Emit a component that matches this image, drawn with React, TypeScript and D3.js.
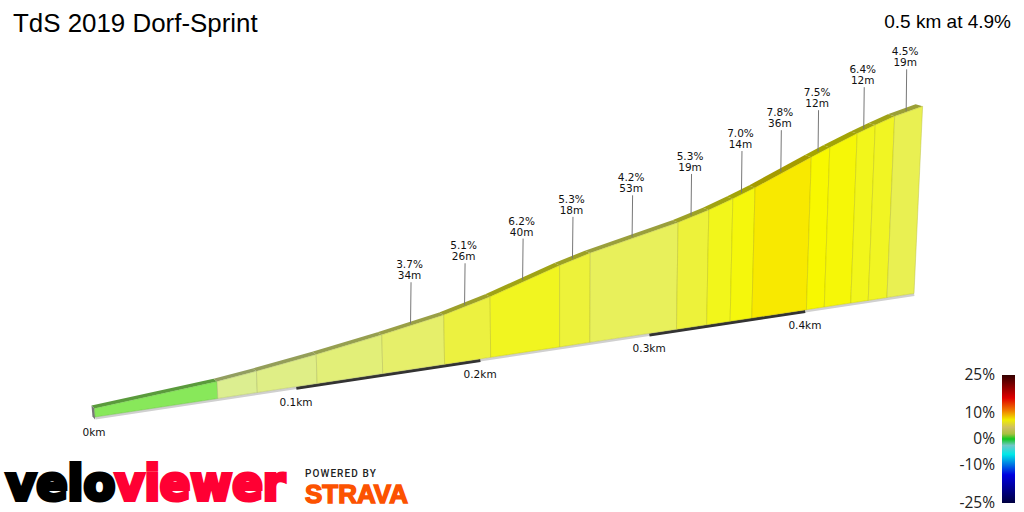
import { color, cumsum, line, scaleLinear, scalePow } from 'd3'

const segLengths = [60, 20, 31, 35, 34, 26, 40, 18, 53, 19, 15, 14, 36, 12, 18, 12, 13, 19]
const segGrades = [1.7, 2.6, 2.9, 3.3, 3.7, 5.1, 6.2, 5.3, 4.2, 5.3, 6.4, 7.0, 7.8, 7.5, 7.2, 6.4, 6.1, 4.5]
const segLabelled = [false, false, false, false, true, true, true, true, true, true, false, true, true, true, false, true, false, true]
const kmTicks = [0, 100, 200, 300, 400]
const blackSpans = [[100, 200], [300, 400]]
const faceGrades = [1.7, 2.6, 3.7, 5.1, 6.2, 7.0, 7.5, 7.8]
const faceColors = ['#88e85a', '#dcee90', '#e6ef6a', '#ecf140', '#f1f520', '#f5f70c', '#f8f800', '#f8e900']
const legendPct = [25, 16, 11, 7.5, 4.5, 2, 0, -2.5, -6, -14, -25]
const legendColors = ['#330000', '#e00000', '#f08000', '#f0ee00', '#cfc060', '#a8c040', '#10c820', '#70c8c8', '#00e8e8', '#0000e0', '#000040']
const legendTicks = [25, 10, 0, -10, -25]

const total = segLengths.reduce((a, b) => a + b, 0)
const ends = [0, ...cumsum(segLengths)]
const rises = [0, ...cumsum(segLengths.map((l, i) => (l * segGrades[i]) / 100))]

// perspective: everything shrinks with distance down the road
const persp = (d: number) => 1 + 0.000464 * d
const flat = (d: number) => d / persp(d)
const xBase = scaleLinear().domain([0, flat(total)]).range([95, 914])
const yBase = scaleLinear().domain([0, flat(total)]).range([417, 293.5])
const heightPx = scalePow().exponent(1.045).domain([-1, 24]).range([0, 247])
const gradeColor = scaleLinear<string>().domain(faceGrades).range(faceColors)
const legendY = scaleLinear().domain([25, -25]).range([375, 503])

type P = [number, number]
const bottom = (d: number): P => [xBase(flat(d)), yBase(flat(d))]
const top = (d: number, h: number): P => {
  const [x, y] = bottom(d)
  const hp = heightPx(h) / persp(d)
  return [x + hp * (x - 560) * 0.00013, y - hp]
}
const back = (p: P, d: number): P => {
  const t = flat(d) / flat(total)
  return [p[0] - 3 - 4 * t, p[1] - 3 + t]
}
const poly = (pts: P[]) => (line()(pts) ?? '') + 'Z'
const sliver = (d0: number, d1: number, thick: number) => {
  const a = bottom(d0)
  const b = bottom(d1)
  return poly([a, b, [b[0] + 0.5, b[1] + thick], [a[0] + 0.5, a[1] + thick]])
}
const dark = (c: string, k: number) => color(c)?.darker(k).formatHex() ?? c

const sans = '"Liberation Sans", Arial, sans-serif'
const small = '"DejaVu Sans", Verdana, sans-serif'

export default function App() {
  const startTop = top(0, 0)
  const startBack = back(startTop, 0)
  const startBottom = bottom(0)
  return (
    <svg width={1024} height={512} style={{ position: 'absolute', left: 0, top: 0 }}>
      <defs>
        <linearGradient id="legend" x1="0" x2="0" y1="0" y2="1">
          {legendPct.map((p, i) => (
            <stop key={p} offset={(25 - p) / 50} stopColor={legendColors[i]} />
          ))}
        </linearGradient>
      </defs>
      <rect width={1024} height={512} fill="#fff" />
      <text x={13} y={32} fontFamily={sans} fontSize={25.9}>TdS 2019 Dorf-Sprint</text>
      <text x={1011} y={28} fontFamily={sans} fontSize={19} textAnchor="end">0.5 km at 4.9%</text>

      <path d={sliver(0, total, 2.5)} fill="#d0d0d0" />
      {blackSpans.map(([a, b]) => (
        <path key={a} d={sliver(a, b, 3)} fill="#333" />
      ))}
      <path
        d={poly([startBack, startTop, startBottom, [startBottom[0], startBottom[1] + 2.5], [startBack[0] + 1, startBack[1] + 11]])}
        fill="#777"
      />

      {segLengths.map((_, i) => {
        const c = gradeColor(segGrades[i])
        const t0 = top(ends[i], rises[i])
        const t1 = top(ends[i + 1], rises[i + 1])
        return (
          <g key={i}>
            <path
              d={poly([t0, t1, back(t1, ends[i + 1]), back(t0, ends[i])])}
              fill={dark(c, 1.15)}
            />
            <path
              d={poly([t0, t1, bottom(ends[i + 1]), bottom(ends[i])])}
              fill={c}
              stroke={dark(c, 0.7)}
              strokeOpacity={0.45}
              strokeWidth={1}
            />
          </g>
        )
      })}

      {segLengths.map((len, i) => {
        if (!segLabelled[i]) return null
        const mid = ends[i] + len / 2
        const f = top(mid, (rises[i] + rises[i + 1]) / 2)
        const p = back(f, mid)
        const lx = f[0] - 2.5
        return (
          <g key={i} fontFamily={small} fontSize={10.5} fill="#111" textAnchor="middle">
            <line x1={lx} y1={p[1] + 1.5} x2={lx + 0.5} y2={p[1] - 40} stroke="#777" strokeWidth={1} />
            <text x={lx - 1} y={p[1] - 54}>{segGrades[i].toFixed(1)}%</text>
            <text x={lx - 1} y={p[1] - 43}>{len}m</text>
          </g>
        )
      })}

      {kmTicks.map((d) => {
        const [x, y] = bottom(d)
        return (
          <text key={d} x={x - (d ? 0 : 1)} y={y + 19} fontFamily={small} fontSize={10.5} fill="#111" textAnchor="middle">
            {d / 1000}km
          </text>
        )
      })}

      <rect x={1002} y={375} width={13} height={128} fill="url(#legend)" />
      {legendTicks.map((p) => (
        <text key={p} x={995} y={legendY(p) + 5} fontFamily='"Open Sans", sans-serif' fontSize={15.5} fill="#222" textAnchor="end">
          {p}%
        </text>
      ))}

      <g fontFamily={small} fontWeight={700} fontSize={48} strokeWidth={4}>
        <text transform="translate(6,500) scale(0.965,1)" fill="#000" stroke="#000">velo</text>
        <text transform="translate(115,500) scale(0.94,1)" fill="#ff0033" stroke="#ff0033">viewer</text>
      </g>
      <text x={305} y={477} fontFamily="Roboto, sans-serif" fontSize={10} fontWeight={500} fill="#222" letterSpacing={1.1}>POWERED BY</text>
      <text x={305} y={503} fontFamily={sans} fontSize={25} fontWeight={700} fill="#fc5200" stroke="#fc5200" strokeWidth={1.4} textLength={103} lengthAdjust="spacingAndGlyphs">STRAVA</text>
    </svg>
  )
}
